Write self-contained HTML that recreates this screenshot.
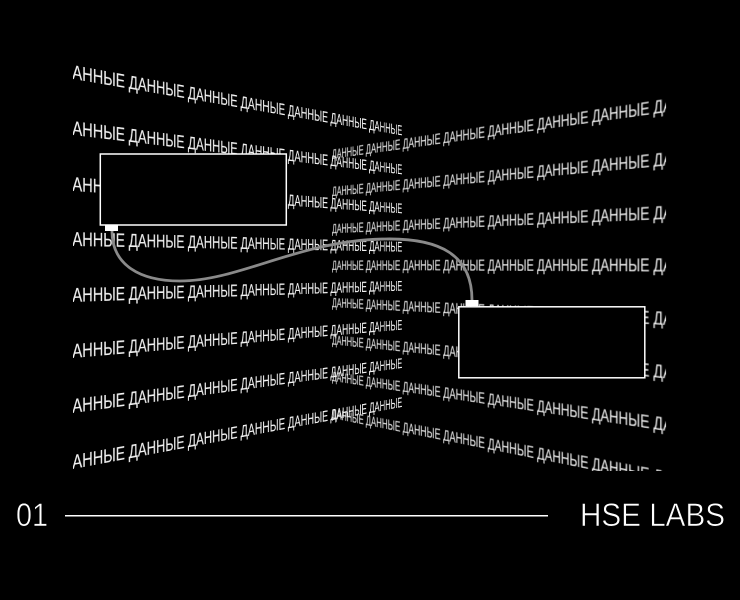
<!DOCTYPE html>
<html><head><meta charset="utf-8">
<style>
html,body{margin:0;padding:0;background:#000}
#p{position:relative;width:740px;height:600px;overflow:hidden;background:#000}
#clip{position:absolute;left:0;top:0;width:740px;height:471px;overflow:hidden}
.plane{position:absolute;left:0;top:0;width:0;height:0;transform-origin:0 0}
.l{transform:matrix3d(1.0673,.2442,0,.000923,0,1,0,0,0,0,1,0,73,268,0,1)}
.r{transform:matrix3d(.2702,-.165,0,-.00062,0,.665,0,0,0,0,1,0,332,284.5,0,1)}
.row{position:absolute;height:26px;overflow:hidden;left:0;white-space:nowrap;color:#f0f0f0;font:20px/26px "Liberation Sans",sans-serif;-webkit-text-stroke:.12px #f0f0f0}
.l .row{width:478px}
.r .row{width:489px}
.row span{display:block;transform-origin:0 0;white-space:nowrap}
.l .row span{transform:translateX(-11px) scaleX(.755)}
.r .row span{transform:scaleX(.736)}
svg{position:absolute;left:0;top:0}
</style></head><body><div id="p">
<div id="clip">
<div class="plane l">
<div class="row" style="top:-208px"><span>ДАННЫЕ ДАННЫЕ ДАННЫЕ ДАННЫЕ ДАННЫЕ ДАННЫЕ ДАННЫЕ</span></div>
<div class="row" style="top:-152px"><span>ДАННЫЕ ДАННЫЕ ДАННЫЕ ДАННЫЕ ДАННЫЕ ДАННЫЕ ДАННЫЕ</span></div>
<div class="row" style="top:-96.500px"><span>ДАННЫЕ ДАННЫЕ ДАННЫЕ ДАННЫЕ ДАННЫЕ ДАННЫЕ ДАННЫЕ</span></div>
<div class="row" style="top:-41px"><span>ДАННЫЕ ДАННЫЕ ДАННЫЕ ДАННЫЕ ДАННЫЕ ДАННЫЕ ДАННЫЕ</span></div>
<div class="row" style="top:15px"><span>ДАННЫЕ ДАННЫЕ ДАННЫЕ ДАННЫЕ ДАННЫЕ ДАННЫЕ ДАННЫЕ</span></div>
<div class="row" style="top:70.500px"><span>ДАННЫЕ ДАННЫЕ ДАННЫЕ ДАННЫЕ ДАННЫЕ ДАННЫЕ ДАННЫЕ</span></div>
<div class="row" style="top:126px"><span>ДАННЫЕ ДАННЫЕ ДАННЫЕ ДАННЫЕ ДАННЫЕ ДАННЫЕ ДАННЫЕ</span></div>
<div class="row" style="top:182px"><span>ДАННЫЕ ДАННЫЕ ДАННЫЕ ДАННЫЕ ДАННЫЕ ДАННЫЕ ДАННЫЕ</span></div>
</div>
<div class="plane r">
<div class="row" style="top:-208px"><span>ДАННЫЕ ДАННЫЕ ДАННЫЕ ДАННЫЕ ДАННЫЕ ДАННЫЕ ДАННЫЕ ДАННЫЕ</span></div>
<div class="row" style="top:-152px"><span>ДАННЫЕ ДАННЫЕ ДАННЫЕ ДАННЫЕ ДАННЫЕ ДАННЫЕ ДАННЫЕ ДАННЫЕ</span></div>
<div class="row" style="top:-96.500px"><span>ДАННЫЕ ДАННЫЕ ДАННЫЕ ДАННЫЕ ДАННЫЕ ДАННЫЕ ДАННЫЕ ДАННЫЕ</span></div>
<div class="row" style="top:-41px"><span>ДАННЫЕ ДАННЫЕ ДАННЫЕ ДАННЫЕ ДАННЫЕ ДАННЫЕ ДАННЫЕ ДАННЫЕ</span></div>
<div class="row" style="top:15px"><span>ДАННЫЕ ДАННЫЕ ДАННЫЕ ДАННЫЕ ДАННЫЕ ДАННЫЕ ДАННЫЕ ДАННЫЕ</span></div>
<div class="row" style="top:70.500px"><span>ДАННЫЕ ДАННЫЕ ДАННЫЕ ДАННЫЕ ДАННЫЕ ДАННЫЕ ДАННЫЕ ДАННЫЕ</span></div>
<div class="row" style="top:126px"><span>ДАННЫЕ ДАННЫЕ ДАННЫЕ ДАННЫЕ ДАННЫЕ ДАННЫЕ ДАННЫЕ ДАННЫЕ</span></div>
<div class="row" style="top:182px"><span>ДАННЫЕ ДАННЫЕ ДАННЫЕ ДАННЫЕ ДАННЫЕ ДАННЫЕ ДАННЫЕ ДАННЫЕ</span></div>
</div>
</div>
<svg width="740" height="600" viewBox="0 0 740 600" xmlns="http://www.w3.org/2000/svg">
<rect x="100.300" y="154" width="186" height="71" fill="#000" stroke="#fff" stroke-width="1.500"/>
<rect x="458.800" y="306.800" width="186" height="71" fill="#000" stroke="#fff" stroke-width="1.500"/>
<path d="M112 231C112 265 140 281 180 281C240 281 300 240 385 239C440 238 472 255 472 300" fill="none" stroke="#8a8a8a" stroke-width="2.800"/>
<rect x="105" y="225" width="13" height="6" fill="#fff"/>
<rect x="465.500" y="300" width="13" height="6" fill="#fff"/>
<rect x="65" y="515" width="483" height="1.500" fill="#fff"/>
<text x="16" y="526" font-family="Liberation Sans,sans-serif" font-size="32" fill="#fff" stroke="#000" stroke-width=".6" textLength="32" lengthAdjust="spacingAndGlyphs">01</text>
<text x="580" y="526" font-family="Liberation Sans,sans-serif" font-size="32" fill="#fff" stroke="#000" stroke-width=".6" textLength="145" lengthAdjust="spacingAndGlyphs">HSE LABS</text>
</svg>
</div></body></html>
